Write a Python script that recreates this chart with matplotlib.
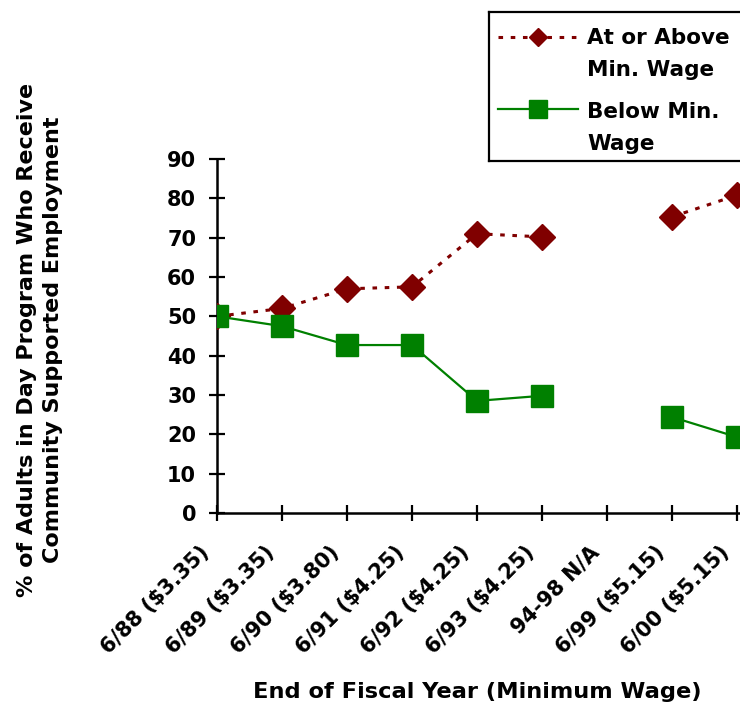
import numpy as np
import matplotlib
matplotlib.use("Agg")
import matplotlib.pyplot as plt
from matplotlib.transforms import ScaledTranslation

plt.rcParams['font.family'] = ['DejaVu Sans']
plt.rcParams['font.weight'] = 'bold'

categories = ["6/88 ($3.35)", "6/89 ($3.35)", "6/90 ($3.80)", "6/91 ($4.25)",
              "6/92 ($4.25)", "6/93 ($4.25)", "94-98 N/A", "6/99 ($5.15)",
              "6/00 ($5.15)"]
at_or_above = [50.0, 52.0, 57.0, 57.5, 71.0, 70.2, np.nan, 75.3, 80.8]
below = [50.0, 47.5, 42.7, 42.7, 28.5, 29.8, np.nan, 24.4, 19.3]
y_ticks = [0, 10, 20, 30, 40, 50, 60, 70, 80, 90]

maroon = "#800000"
green = "#008000"

W, H = 740, 704
fig = plt.figure(figsize=(W / 100, H / 100), dpi=100)

# main axes in pixel-derived figure fractions
x0, x1 = 217, 740
y_top, y_bot = 159, 513
ax = fig.add_axes([x0 / W, (H - y_bot) / H, (x1 - x0) / W, (y_bot - y_top) / H])

x = np.arange(len(categories))
above_line = dict(color=maroon, lw=2.2, ls=(0, (1.5, 2.5)))
below_line = dict(color=green, lw=1.6, ls="-")

ax.plot(x, at_or_above, **above_line, marker="D", markersize=12.9,
        markerfacecolor=maroon, markeredgecolor=maroon, zorder=3)
ax.plot(x, below, **below_line, marker="s", markersize=15.5,
        markerfacecolor=green, markeredgecolor=green, zorder=4)

ax.set_xlim(0, (x1 - x0) / 65.0)
ax.set_ylim(0, 90)
ax.set_yticks(y_ticks)
ax.set_xticks(x)
ax.set_xticklabels(categories, rotation=45, ha="right", va="center",
                   rotation_mode="anchor", fontsize=15, fontweight="bold")
ax.set_yticklabels([str(v) for v in y_ticks], fontsize=15, fontweight="bold")
ax.tick_params(axis="both", direction="inout", length=12, width=1.6, colors="black")
ax.tick_params(axis="x", pad=0)
ax.tick_params(axis="y", pad=9)
# shift rotated category labels so their right ends sit just below-left of each tick
shift = ScaledTranslation(-11 / 100, -28 / 100, fig.dpi_scale_trans)
for lab in ax.get_xticklabels():
    lab.set_transform(lab.get_transform() + shift)
for side in ("top", "right"):
    ax.spines[side].set_visible(False)
for side in ("left", "bottom"):
    ax.spines[side].set_linewidth(1.8)
ax.patch.set_visible(False)

fig.text(40 / W, 1 - 340 / H,
         "% of Adults in Day Program Who Receive\nCommunity Supported Employment",
         rotation=90, ha="center", va="center", multialignment="center",
         fontsize=16, fontweight="bold", linespacing=1.4)
fig.text(477 / W, 1 - 692 / H, "End of Fiscal Year (Minimum Wage)",
         ha="center", va="center", fontsize=16.2, fontweight="bold")

# legend box
lx0, ly0, lx1, ly1 = 489, 12, 770, 161
leg = fig.add_axes([lx0 / W, (H - ly1) / H, (lx1 - lx0) / W, (ly1 - ly0) / H])
leg.set_xlim(lx0, lx1)
leg.set_ylim(ly1, ly0)
leg.set_xticks([])
leg.set_yticks([])
for s in leg.spines.values():
    s.set_linewidth(1.6)
    s.set_color("black")
leg.plot([498, 577], [37, 37], **above_line)
leg.plot([538], [37], ls="none", marker="D", markersize=9.2,
         markerfacecolor=maroon, markeredgecolor=maroon)
leg.plot([498, 578], [109, 109], **below_line)
leg.plot([538], [109], ls="none", marker="s", markersize=12.5,
         markerfacecolor=green, markeredgecolor=green)
legend_lines = [("At or Above", 44), ("Min. Wage", 76),
                ("Below Min.", 118), ("Wage", 150)]
for txt, base in legend_lines:
    leg.text(587, base, txt, ha="left", va="baseline",
             fontsize=15.5, fontweight="bold")

fig.savefig("out.png", dpi=100)
